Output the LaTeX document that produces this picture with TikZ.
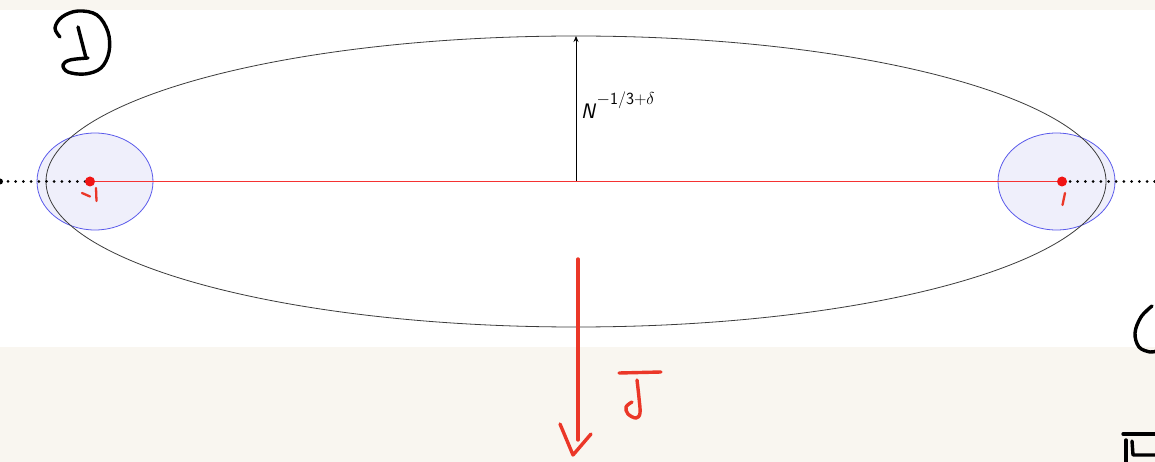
\documentclass[tikz,border=0pt]{standalone}
\usepackage{fontspec}
\usetikzlibrary{arrows.meta}
\definecolor{paper}{RGB}{249,246,240}
\definecolor{penred}{RGB}{235,55,40}
\definecolor{dotred}{RGB}{240,20,20}
\definecolor{linered}{RGB}{245,50,50}
\definecolor{blueedge}{RGB}{90,90,235}
\definecolor{bluefill}{RGB}{239,239,251}
\definecolor{ellgray}{RGB}{60,60,60}
\tikzset{
  pen/.style={line width=3.4pt, line cap=round, line join=round, black},
  redpen/.style={line width=3.4pt, line cap=round, line join=round, penred},
  thinred/.style={line width=2.3pt, line cap=round, line join=round, penred},
  disk/.style={draw=blueedge, fill=bluefill, line width=0.8pt},
  reddot/.style={circle, fill=dotred, inner sep=0pt, minimum size=10pt},
  segment/.style={line width=1.6pt, penred},
}
\begin{document}
\begin{tikzpicture}[x=1pt,y=-1pt]
\useasboundingbox (0,0) rectangle (1155,462);
\fill[paper] (0,0) rectangle (1155,462);
\fill[white] (0,10) rectangle (1155,347);
% blue disks
\draw[disk] (95,181.5) ellipse [x radius=58, y radius=48.5];
\draw[disk] (1056.5,181.5) ellipse [x radius=58.5, y radius=48.5];
% big ellipse
\draw[ellgray, line width=0.8pt] (46,181.5) arc[start angle=180, end angle=-180, x radius=530, y radius=145.5];
% dotted lines
\foreach \x in {8,15.7,...,86} {\fill (\x,181.5) circle (1.5pt);}
\foreach \x in {1070,1077.7,...,1156} {\fill (\x,181.5) circle (1.5pt);}
\fill (0,181.5) circle (3pt);
% arrow
\coordinate (c) at (576,181.5);
\coordinate (t) at (576,36);
\draw[black, line width=0.8pt, -{Stealth[length=6pt,width=5pt]}] (c) -- (t);
\node[anchor=base west, inner sep=0pt] (lbl) at (581,119)
  {\fontsize{21}{21}\selectfont\sffamily\itshape N\hspace{1.5pt}\raisebox{14.5pt}{\fontsize{17}{17}\selectfont\upshape $-$1/3+$\delta$}};
% points and red segment
\coordinate (mc) at (90,181.5);
\coordinate (pc) at (1062,181.5);
\draw[segment] (mc) -- (pc);
\fill[linered] (90,180.7) rectangle (1062,182.3);
\node[reddot] (m) at (mc) {};
\node[reddot] (p) at (pc) {};
% handwritten D
\draw[pen] (78,27) -- (86,58);
\draw[pen] plot[smooth, tension=0.6] coordinates {(60,37) (55,28) (62,17) (78,11) (97,15) (108,32) (109,52) (101,68) (85,74) (68,72) (63,65) (70,60) (88,58)};
% -1 and 1
\draw[thinred] (82,193) -- (90,196.5);
\draw[thinred] (96,188) -- (96.5,201);
\draw[thinred] (1065,193) -- (1062.5,205);
% red arrow J
\draw[redpen] (578,259) -- (578,440);
\draw[redpen] (560,424) -- (573,455) -- (591,434);
\draw[redpen] (619,373) -- (661,372);
\draw[redpen] plot[smooth, tension=0.6] coordinates {(637,380) (639,398) (640,413) (636,418) (628,414) (626,407) (632,402)};
% C and E partial
\draw[pen] plot[smooth, tension=0.6] coordinates {(1152,306) (1141,317) (1135,333) (1139,347) (1150,352) (1156,351)};
\draw[pen] (1123,434) -- (1156,434);
\draw[pen] (1126,440) -- (1126,463);
\draw[pen] (1132,441) -- (1133,455) -- (1156,455);
\end{tikzpicture}
\end{document}
